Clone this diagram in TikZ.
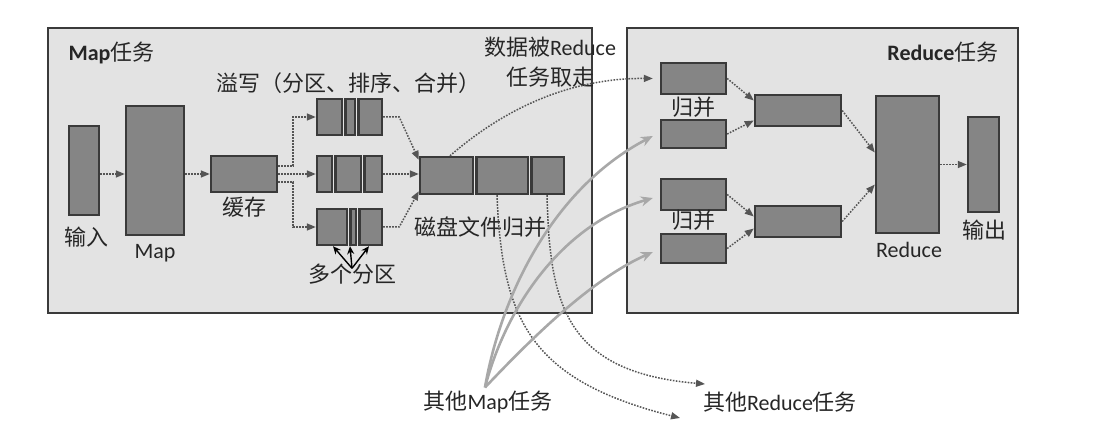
\documentclass[tikz,border=0pt]{standalone}
\usepackage{fontspec}
\setmainfont{Carlito}
\newfontfamily\cjk{Noto Sans CJK SC}
\usepackage{tikz}
\usetikzlibrary{arrows.meta}
\usepackage{xcolor}
\definecolor{panel}{HTML}{E3E3E3}
\definecolor{edge}{HTML}{3A3A3A}
\definecolor{blkfill}{HTML}{858585}
\definecolor{dotcol}{HTML}{555555}
\definecolor{fetch}{HTML}{A8A8A8}
\definecolor{ink}{HTML}{262626}

\begin{document}
\begin{tikzpicture}[x=1pt, y=-1pt, font=\fontsize{22}{26}\selectfont, text=ink,
	pane/.style={draw=edge, fill=panel, line width=1.5pt},
	blk/.style={draw=edge, fill=blkfill, line width=2.4pt, inner sep=0pt},
	hold/.style={inner sep=0pt, outer sep=1.2pt},
	flow/.style={draw=dotcol, line width=1.5pt, dash pattern=on 1.6pt off 1.4pt, -{Triangle[length=9pt,width=7pt]}},
	fetchline/.style={draw=fetch, line width=2.6pt, -{Stealth[length=12pt,width=10pt]}},
	pick/.style={draw=black, line width=1.4pt, -{Stealth[length=8pt,width=7pt]}}]
	\fill[white] (0,0) rectangle (1100,430);
	\useasboundingbox (0,0) rectangle (1100,430);
	% panels
	\draw[pane] (48,28) rectangle (592,313);
	\draw[pane] (627,28) rectangle (1018,313);
	\node[anchor=west] (mapt) at (65,53) {\textbf{Map}{\cjk 任务}};
	\node[anchor=east] (redt) at (1002,52) {\textbf{Reduce}{\cjk 任务}};
	% map side
	\node[blk, minimum width=30, minimum height=89] (in) at (84,170.5) {};
	\node[blk, minimum width=58, minimum height=129] (map) at (155,170.5) {};
	\node[blk, minimum width=66, minimum height=36] (buf) at (244,174) {};
	\node (inl) at (86,237) {\cjk 输入};
	\node (mapl) at (155,253) {Map};
	\node (bufl) at (244,207) {\cjk 缓存};
	\node (spl) at (348,83) {\cjk 溢写（分区、排序、合并）};
	\draw[blk] (317,99) rectangle (342,135) (345.5,99) rectangle (355,135) (358.5,99) rectangle (382,135);
	\draw[blk] (317,156) rectangle (332,192) (335.5,156) rectangle (361,192) (364.5,156) rectangle (382,192);
	\draw[blk] (317,209) rectangle (347,245) (350.5,209) rectangle (356,245) (359.5,209) rectangle (382,245);
	\node[hold, minimum width=65, minimum height=36] (sp1) at (349.5,117) {};
	\node[hold, minimum width=65, minimum height=36] (sp2) at (349.5,174) {};
	\node[hold, minimum width=65, minimum height=36] (sp3) at (349.5,227) {};
	\draw[blk] (420,157) rectangle (473,194) (476.5,157) rectangle (528,194) (531.5,157) rectangle (564,194);
	\node[hold, minimum width=144, minimum height=37] (disk) at (492,175.5) {};
	\node (diskl) at (480,227) {\cjk 磁盘文件归并};
	\node (dz) at (352,274) {\cjk 多个分区};
	\node (take1) at (550,47) {{\cjk 数据被}Reduce};
	\node (take2) at (550,77) {\cjk 任务取走};
	% reduce side
	\node[blk, minimum width=65, minimum height=31] (r1) at (693.5,78.5) {};
	\node[blk, minimum width=65, minimum height=28] (r2) at (693.5,134) {};
	\node[blk, minimum width=65, minimum height=31] (r3) at (693.5,194.5) {};
	\node[blk, minimum width=65, minimum height=29] (r4) at (693.5,248.5) {};
	\node[blk, minimum width=86, minimum height=31] (m1) at (798,110.5) {};
	\node[blk, minimum width=86, minimum height=31] (m2) at (798,221.5) {};
	\node[blk, minimum width=63, minimum height=137] (red) at (907.5,164.5) {};
	\node[blk, minimum width=31, minimum height=95] (out) at (983.5,164.5) {};
	\node (g1) at (693,107) {\cjk 归并};
	\node (g2) at (693,220) {\cjk 归并};
	\node (redl) at (909,250) {Reduce};
	\node (outl) at (984,230) {\cjk 输出};
	% outside
	\node (mo) at (488,402) {{\cjk 其他}Map{\cjk 任务}};
	\node (ro) at (780,402) {{\cjk 其他}Reduce{\cjk 任务}};
	\coordinate (o1) at (680,418);
	\coordinate (o2) at (705,384);
	% map flow
	\draw[flow] (in.east |- buf.west) -- (map.west |- buf.west);
	\draw[flow] (map.east |- buf.west) -- (buf.west);
	\draw[flow] ([yshift=8pt]buf.east) -- ++(15,0) |- (sp1.west);
	\draw[flow] (buf.east) -- (sp2.west);
	\draw[flow] ([yshift=-8pt]buf.east) -- ++(15,0) |- (sp3.west);
	\draw[flow] (sp1.east) -- ++(16,0) -- ([yshift=-4pt]disk.north west);
	\draw[flow] (sp2.east) -- (sp2.east -| disk.west);
	\draw[flow] (sp3.east) -- ++(16,0) -- ([yshift=4pt]disk.south west);
	\foreach \dx in {-16.5,0.5,19.5}
		\draw[pick] ([yshift=-8pt]dz.north) -- ([xshift=\dx pt]sp3.south);
	% reduce flow
	\draw[flow] (r1.east) -- ([yshift=10pt]m1.west);
	\draw[flow] (r2.east) -- ([yshift=-10pt]m1.west);
	\draw[flow] (r3.east) -- ([yshift=5pt]m2.west);
	\draw[flow] (r4.east) -- ([yshift=-7pt]m2.west);
	\draw[flow] (m1.east) -- ([yshift=12pt]red.west);
	\draw[flow] (m2.east) -- ([yshift=-20pt]red.west);
	\draw[flow] (red) -- (out);
	% between tasks
	\draw[flow] ([xshift=-42pt]disk.north) .. controls (520,95) and (590,78) .. ([xshift=-7pt]r1.west);
	\draw[flow] ([xshift=5pt]disk.south) .. controls (502,320) and (530,380) .. (o1);
	\draw[flow] ([xshift=55pt]disk.south) .. controls (550,300) and (562,372) .. (o2);
	\draw[fetchline] ([xshift=-3pt]mo.north) .. controls (500,300) and (550,190) .. ([shift={(-7pt,-2pt)}]r2.west);
	\draw[fetchline] ([xshift=-3pt]mo.north) .. controls (505,310) and (560,225) .. ([shift={(-7pt,-3.5pt)}]r3.west);
	\draw[fetchline] ([xshift=-3pt]mo.north) .. controls (530,340) and (590,280) .. ([shift={(-7pt,-3.5pt)}]r4.west);
\end{tikzpicture}
\end{document}
